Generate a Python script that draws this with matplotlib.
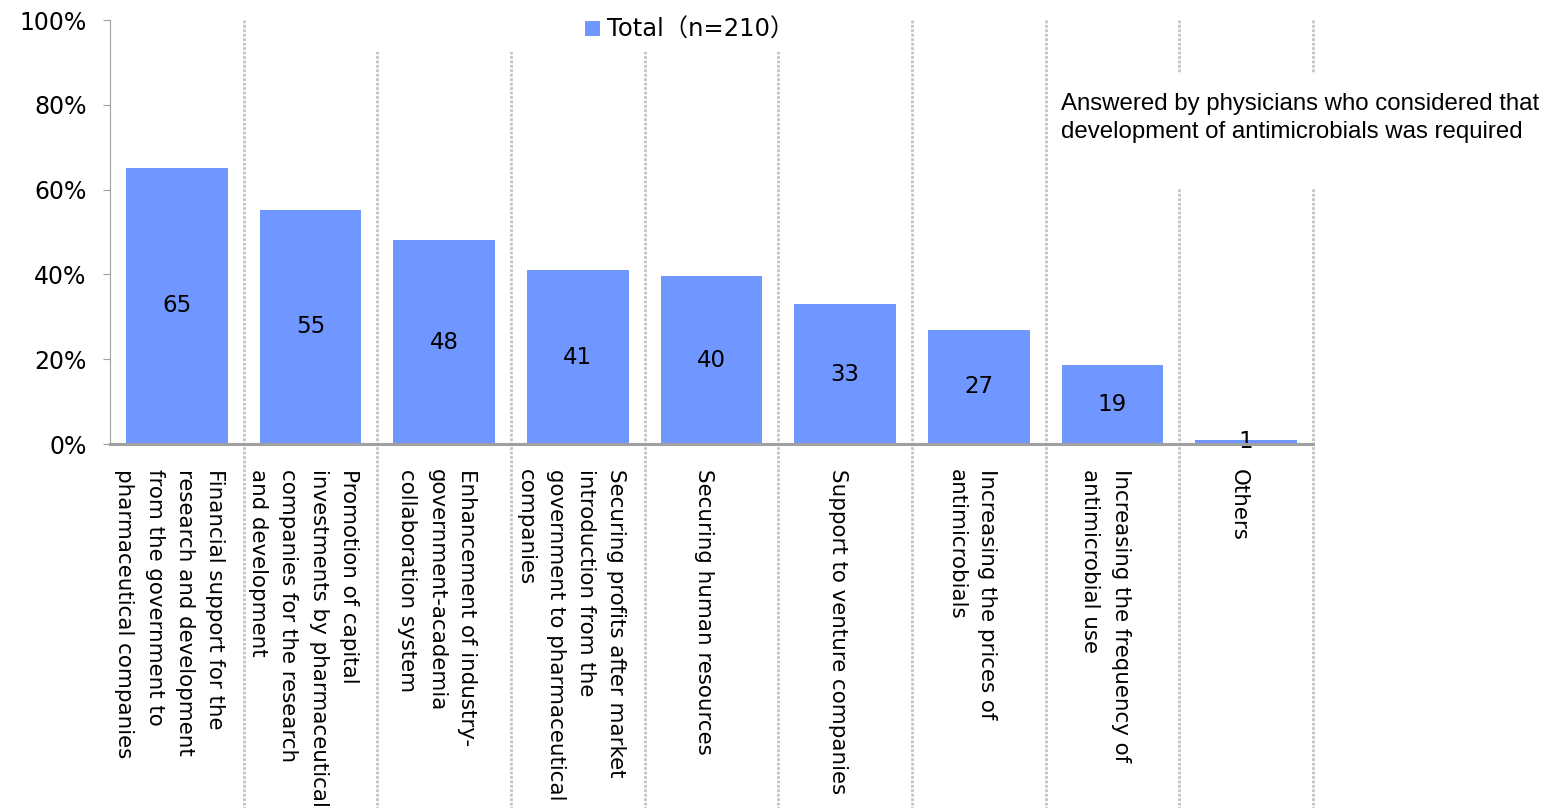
import numpy as np
import matplotlib
matplotlib.use('Agg')
import matplotlib.pyplot as plt
import matplotlib.transforms as mtransforms
from matplotlib.patches import Rectangle

# データ
categories = [
    'Financial support for the\nresearch and development\nfrom the government to\npharmaceutical companies',
    'Promotion of capital\ninvestments by pharmaceutical\ncompanies for the research\nand development',
    'Enhancement of industry-\ngovernment-academia\ncollaboration system',
    'Securing profits after market\nintroduction from the\ngovernment to pharmaceutical\ncompanies',
    'Securing human resources',
    'Support to venture companies',
    'Increasing the prices of\nantimicrobials',
    'Increasing the frequency of\nantimicrobial use',
    'Others',
]
values = [65.2, 55.2, 48.1, 41.0, 39.6, 33.0, 26.9, 18.6, 1.0]
value_labels = ['65', '55', '48', '41', '40', '33', '27', '19', '1']
yticks = [0, 20, 40, 60, 80, 100]
series_name = 'Total（n=210）'
note = 'Answered by physicians who considered that\ndevelopment of antimicrobials was required'

plt.rcParams['font.family'] = ['DejaVu Sans', 'Noto Sans CJK JP']
bar_color = '#7096ff'
sep_color = '#c4c4c4'

fig = plt.figure(figsize=(15.53, 8.08), dpi=100)
ax = fig.add_axes([110/1553, 1-444/808, (1313-110)/1553, 424/808])

x = np.arange(len(categories))
bars = ax.bar(x, values, width=0.76, color=bar_color, label=series_name, zorder=2)
for b, t in zip(bars, value_labels):
    ax.text(b.get_x() + b.get_width()/2, b.get_height()/2, t, ha='center', va='center',
            fontsize=16.5, color='black', zorder=3)

ax.set_xlim(-0.5, len(categories) - 0.5)
ax.set_ylim(0, 100)
ax.set_yticks(yticks)
ax.set_yticklabels([f'{v}%' for v in yticks], fontsize=17)
ax.tick_params(axis='y', length=5, color='#a0a0a0', pad=12)
ax.set_xticks(x)
ax.set_xticklabels(categories, rotation=-90, fontsize=15.4, va='top', ha='center',
                   multialignment='left', linespacing=1.64)
ax.tick_params(axis='x', length=0, pad=18)
shift = mtransforms.ScaledTranslation(-7/100, 0, fig.dpi_scale_trans)
for lab in ax.get_xticklabels():
    lab.set_transform(lab.get_transform() + shift)

for s in ['top', 'right']:
    ax.spines[s].set_visible(False)
ax.spines['left'].set_color('#a0a0a0')
ax.spines['bottom'].set_color('#a0a0a0')
ax.spines['bottom'].set_linewidth(2.2)
ax.spines['bottom'].set_zorder(4)

# 区切り線（点線）
low = -(808 - 444) / 424
trans = ax.get_xaxis_transform()
for k in range(len(categories)):
    ax.plot([k + 0.5, k + 0.5], [1, low], transform=trans, color=sep_color,
            linestyle=(0, (1, 0.6)), linewidth=2, clip_on=False, zorder=1)

# 凡例（背景を白で抜く）
fig.patches.append(Rectangle((300/1553, 1-52/808), 500/1553, 34/808,
                             transform=fig.transFigure, facecolor='white',
                             edgecolor='none', zorder=5))
handles, labels = ax.get_legend_handles_labels()
leg = fig.legend(handles, labels, loc='center', bbox_to_anchor=(690/1553, 1-30/808),
                 fontsize=17.5, frameon=False,
                 handlelength=0.6, handleheight=0.6, handletextpad=0.3, borderpad=0.2)
leg.set_zorder(6)

# 注記
fig.patches.append(Rectangle((1049/1553, 1-188/808), 504/1553, 114/808,
                             transform=fig.transFigure, facecolor='white',
                             edgecolor='none', zorder=5))
fig.text(1061/1553, 1-118/808, note, fontsize=17.3, family='Liberation Sans',
         ha='left', va='center', linespacing=1.33, zorder=6)

plt.savefig('out.png', dpi=100)
